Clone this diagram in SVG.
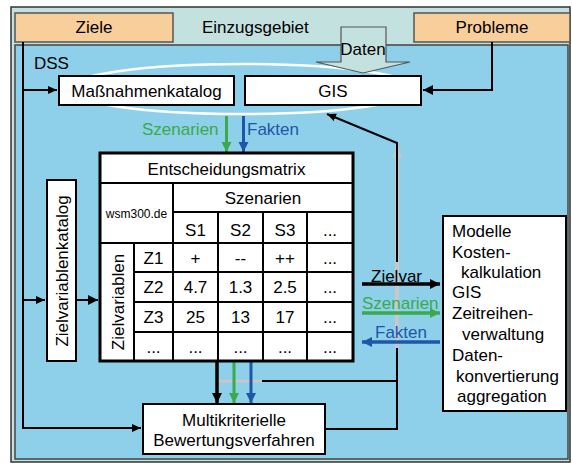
<svg xmlns="http://www.w3.org/2000/svg" width="572" height="463" viewBox="0 0 572 463">
<defs>
<style>
text{font-family:"Liberation Sans",Arial,sans-serif;font-size:17px;fill:#000}
.c{text-anchor:middle}
.box{fill:#fff;stroke:#000;stroke-width:2}
.cell{fill:#fff;stroke:#000;stroke-width:2}
.ln{fill:none;stroke:#000;stroke-width:2}
.gr{fill:#3aaa4b}
.bl{fill:#1f56a8}
</style>
<marker id="ab" markerUnits="userSpaceOnUse" markerWidth="12" markerHeight="12" refX="10" refY="5" orient="auto"><path d="M0,0 L10,5 L0,10 Z" fill="#000"/></marker>
<marker id="abs" markerUnits="userSpaceOnUse" markerWidth="12" markerHeight="12" refX="9" refY="4" orient="auto"><path d="M0,0 L9,4 L0,8 Z" fill="#000"/></marker>
<marker id="ag" markerUnits="userSpaceOnUse" markerWidth="12" markerHeight="12" refX="10" refY="5" orient="auto"><path d="M0,0 L10,5 L0,10 Z" fill="#3aaa4b"/></marker>
<marker id="au" markerUnits="userSpaceOnUse" markerWidth="12" markerHeight="12" refX="10" refY="5" orient="auto"><path d="M0,0 L10,5 L0,10 Z" fill="#1f56a8"/></marker>
<marker id="ay" markerUnits="userSpaceOnUse" markerWidth="12" markerHeight="12" refX="10" refY="5" orient="auto"><path d="M0,0 L10,5 L0,10 Z" fill="#c8c8c8"/></marker>
</defs>

<g id="einzugsgebiet">
<rect x="11" y="7" width="559" height="455" fill="#c3e2df" stroke="#333" stroke-width="1.5"/>
<text x="202" y="33">Einzugsgebiet</text>
</g>
<g id="dss">
<rect x="15" y="45" width="553" height="414" fill="#8ecfea" stroke="#444" stroke-width="1.5"/>
<text x="34" y="69">DSS</text>
<ellipse cx="242" cy="89" rx="175" ry="25" fill="none" stroke="#fff" stroke-width="2.5"/>
</g>
<g id="ziele">
<rect x="15" y="13" width="158" height="29" fill="#f8ce9b" stroke="#555" stroke-width="1.5"/>
<text class="c" x="94" y="33">Ziele</text>
</g>
<g id="probleme">
<rect x="414" y="13" width="156" height="29" fill="#f8ce9b" stroke="#555" stroke-width="1.5"/>
<text class="c" x="492" y="33">Probleme</text>
</g>
<g id="daten">
<polygon points="341,27 386,27 386,62 410,62 363,73 316,62 341,62" fill="#c3e2df" stroke="#555" stroke-width="1.2"/>
<text class="c" x="363" y="55">Daten</text>
</g>

<g id="connectors">
<path class="ln" d="M23,42 V428 H141" marker-end="url(#abs)"/>
<path class="ln" d="M23,90 H57" marker-end="url(#abs)"/>
<path class="ln" d="M23,300 H45" marker-end="url(#abs)"/>
<path class="ln" d="M76,300 H98" stroke-width="3.5" marker-end="url(#ab)"/>
<path class="ln" d="M492,42 V90 H423" stroke-width="3" marker-end="url(#ab)"/>
<path d="M226.5,116 V152" stroke="#3aaa4b" stroke-width="3" marker-end="url(#ag)"/>
<path d="M243.5,116 V152" stroke="#1f56a8" stroke-width="3" marker-end="url(#au)"/>
<path d="M218,381 H262" stroke="#c8c8c8" stroke-width="3"/>
<path d="M262,381 H397" stroke="#000" stroke-width="1.8"/>
<path d="M397,348 V147" stroke="#c8c8c8" stroke-width="4" marker-end="url(#ay)"/>
<path class="ln" d="M325,429 H397 V348" stroke-width="1.8"/>
<path class="ln" d="M397,262 V143 L327,114" stroke-width="2" marker-end="url(#abs)"/>
<path d="M217,361 V403" stroke="#000" stroke-width="3.5" marker-end="url(#ab)"/>
<path d="M234,361 V403" stroke="#3aaa4b" stroke-width="3" marker-end="url(#ag)"/>
<path d="M251,359 V403" stroke="#1f56a8" stroke-width="3" marker-end="url(#au)"/>
<path d="M362,284 H440" stroke="#000" stroke-width="3.5" marker-end="url(#ab)"/>
<path d="M362,313 H440" stroke="#3aaa4b" stroke-width="3.5" marker-end="url(#ag)"/>
<path d="M440,342 H362" stroke="#1f56a8" stroke-width="3.5" marker-end="url(#au)"/>
<text class="gr" x="142" y="135">Szenarien</text>
<text class="bl" x="247" y="135">Fakten</text>
<text x="371" y="282">Zielvar</text>
<text class="gr" x="362" y="309">Szenarien</text>
<text class="bl" x="375" y="338">Fakten</text>
</g>

<g id="massnahmenkatalog">
<rect class="box" x="59" y="76" width="175" height="29"/>
<text class="c" x="146.5" y="97">Maßnahmenkatalog</text>
</g>
<g id="gis">
<rect class="box" x="245" y="76" width="176" height="29"/>
<text class="c" x="333" y="97">GIS</text>
</g>
<g id="zielvariablenkatalog">
<rect class="box" x="47" y="180" width="29" height="181"/>
<text class="c" transform="translate(67.5,271) rotate(-90)">Zielvariablenkatalog</text>
</g>

<g id="entscheidungsmatrix">
<rect x="100" y="153" width="253" height="208" fill="#fff"/>
<rect class="cell" x="100" y="153" width="253" height="30"/>
<rect class="cell" x="100" y="183" width="73" height="60"/>
<rect class="cell" x="173" y="183" width="180" height="29"/>
<rect class="cell" x="173" y="212" width="45" height="31"/>
<rect class="cell" x="218" y="212" width="45" height="31"/>
<rect class="cell" x="263" y="212" width="44" height="31"/>
<rect class="cell" x="307" y="212" width="46" height="31"/>
<rect class="cell" x="100" y="243" width="34" height="118"/>
<path d="M134,272 H353 M134,302 H353 M134,332 H353 M173,243 V361 M218,243 V361 M263,243 V361 M307,243 V361" stroke="#000" stroke-width="2"/>
<rect x="100" y="153" width="253" height="208" fill="none" stroke="#000" stroke-width="3"/>
<text class="c" x="226.5" y="175">Entscheidungsmatrix</text>
<text class="c" x="136.5" y="218" style="font-size:12px">wsm300.de</text>
<text class="c" x="263" y="204">Szenarien</text>
<text class="c" x="195.5" y="236">S1</text>
<text class="c" x="240.5" y="236">S2</text>
<text class="c" x="285" y="236">S3</text>
<text class="c" x="330" y="236">...</text>
<text class="c" transform="translate(124,302) rotate(-90)">Zielvariablen</text>
<text class="c" x="153.5" y="264">Z1</text>
<text class="c" x="195.5" y="264">+</text>
<text class="c" x="240.5" y="264">--</text>
<text class="c" x="285" y="264">++</text>
<text class="c" x="330" y="264">...</text>
<text class="c" x="153.5" y="293">Z2</text>
<text class="c" x="195.5" y="293">4.7</text>
<text class="c" x="240.5" y="293">1.3</text>
<text class="c" x="285" y="293">2.5</text>
<text class="c" x="330" y="293">...</text>
<text class="c" x="153.5" y="323">Z3</text>
<text class="c" x="195.5" y="323">25</text>
<text class="c" x="240.5" y="323">13</text>
<text class="c" x="285" y="323">17</text>
<text class="c" x="330" y="323">...</text>
<text class="c" x="153.5" y="353">...</text>
<text class="c" x="195.5" y="353">...</text>
<text class="c" x="240.5" y="353">...</text>
<text class="c" x="285" y="353">...</text>
<text class="c" x="330" y="353">...</text>
</g>

<g id="modelle">
<rect class="box" x="443" y="216" width="123" height="195"/>
<text x="452" y="237">Modelle</text>
<text x="452" y="258">Kosten-</text>
<text x="461" y="278">kalkulation</text>
<text x="452" y="298">GIS</text>
<text x="452" y="319">Zeitreihen-</text>
<text x="462" y="340">verwaltung</text>
<text x="452" y="361">Daten-</text>
<text x="456" y="382">konvertierung</text>
<text x="457" y="402">aggregation</text>
</g>

<g id="multikriterielle">
<rect class="box" x="143" y="404" width="182" height="50"/>
<text class="c" x="234" y="426">Multikriterielle</text>
<text class="c" x="234" y="446">Bewertungsverfahren</text>
</g>
</svg>
